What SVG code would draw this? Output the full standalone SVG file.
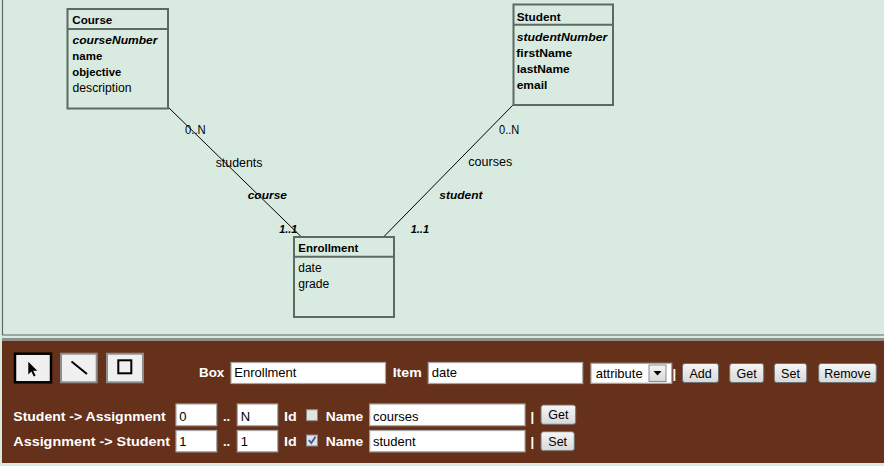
<svg xmlns="http://www.w3.org/2000/svg" width="884" height="466" viewBox="0 0 884 466">
<style>
.box{fill:none;stroke:#5c6a61;stroke-width:2}
.sep{stroke:#5c6a61;stroke-width:2}
.t{font-family:"Liberation Sans",Arial,sans-serif;font-size:12px;fill:#000}
.b{font-family:"Liberation Sans",Arial,sans-serif;font-size:11.5px;font-weight:bold;fill:#000}
.bi{font-family:"Liberation Sans",Arial,sans-serif;font-size:11.5px;font-weight:bold;font-style:italic;fill:#000}
.conn{stroke:#000;stroke-width:1;fill:none}
.lbl{font-family:"Liberation Sans",Arial,sans-serif;font-size:13px;font-weight:bold;fill:#fff}
.in{fill:#fff;stroke:#a6a6a6;stroke-width:1.2}
.it{font-family:"Liberation Sans",Arial,sans-serif;font-size:13px;fill:#000}
.btn{fill:url(#bg);stroke:#707070;stroke-width:1}
.bt{font-family:"Liberation Sans",Arial,sans-serif;font-size:12.5px;fill:#000;text-anchor:middle}
.tool{fill:#f0f0f0;stroke:#8c8c8c;stroke-width:2}
.cb{fill:#e2e2e2;stroke:#8a8a8a;stroke-width:1}
</style>
<defs>
<linearGradient id="bg" x1="0" y1="0" x2="0" y2="1">
<stop offset="0" stop-color="#f6f6f6"/>
<stop offset="1" stop-color="#d8d8d8"/>
</linearGradient>
</defs>
<rect x="0" y="0" width="884" height="466" fill="#d9ebe0"/>
<line x1="2.5" y1="0" x2="2.5" y2="335" stroke="#5c6a61" stroke-width="1.2"/>
<line x1="2" y1="335" x2="884" y2="335" stroke="#5c6a61" stroke-width="1.2"/>

<g id="connectors">
<line class="conn" x1="168" y1="107" x2="301.5" y2="237"/>
<line class="conn" x1="513.5" y1="104.5" x2="383.5" y2="237"/>
<text class="t" x="185" y="134" textLength="20.7" lengthAdjust="spacingAndGlyphs">0..N</text>
<text class="t" x="215.7" y="166.5" textLength="46.7" lengthAdjust="spacingAndGlyphs">students</text>
<text class="bi" x="247.7" y="199" textLength="39.3" lengthAdjust="spacingAndGlyphs">course</text>
<text class="bi" x="279.3" y="232.5" textLength="18" lengthAdjust="spacingAndGlyphs">1..1</text>
<text class="t" x="499" y="133.5" textLength="20.3" lengthAdjust="spacingAndGlyphs">0..N</text>
<text class="t" x="468.3" y="166" textLength="44" lengthAdjust="spacingAndGlyphs">courses</text>
<text class="bi" x="439.3" y="199.3" textLength="43.3" lengthAdjust="spacingAndGlyphs">student</text>
<text class="bi" x="410.7" y="232.7" textLength="18.3" lengthAdjust="spacingAndGlyphs">1..1</text>
</g>

<g id="course">
<rect class="box" x="67.5" y="9" width="100.5" height="99.5"/>
<line class="sep" x1="67.5" y1="29" x2="168" y2="29"/>
<text class="b" x="72.3" y="24.3" textLength="40" lengthAdjust="spacingAndGlyphs">Course</text>
<text class="bi" x="72.5" y="44.3" textLength="85" lengthAdjust="spacingAndGlyphs">courseNumber</text>
<text class="b" x="72.3" y="60.3" textLength="30" lengthAdjust="spacingAndGlyphs">name</text>
<text class="b" x="72.3" y="76.3" textLength="49" lengthAdjust="spacingAndGlyphs">objective</text>
<text class="t" x="72.5" y="92.3" textLength="59" lengthAdjust="spacingAndGlyphs">description</text>
</g>

<g id="student">
<rect class="box" x="513.5" y="4.5" width="99.5" height="100.5"/>
<line class="sep" x1="513.5" y1="24.7" x2="613" y2="24.7"/>
<text class="b" x="516.7" y="20.5" textLength="44" lengthAdjust="spacingAndGlyphs">Student</text>
<text class="bi" x="516.7" y="40.7" textLength="90.6" lengthAdjust="spacingAndGlyphs">studentNumber</text>
<text class="b" x="516.3" y="56.7" textLength="56" lengthAdjust="spacingAndGlyphs">firstName</text>
<text class="b" x="516.7" y="72.7" textLength="53" lengthAdjust="spacingAndGlyphs">lastName</text>
<text class="b" x="516.7" y="88.7" textLength="30.6" lengthAdjust="spacingAndGlyphs">email</text>
</g>

<g id="enrollment">
<rect class="box" x="294" y="237" width="100" height="80"/>
<line class="sep" x1="294" y1="256.7" x2="394" y2="256.7"/>
<text class="b" x="298.3" y="252.3" textLength="60" lengthAdjust="spacingAndGlyphs">Enrollment</text>
<text class="t" x="298.3" y="272.3" textLength="23.3" lengthAdjust="spacingAndGlyphs">date</text>
<text class="t" x="298.3" y="288.3" textLength="31" lengthAdjust="spacingAndGlyphs">grade</text>
</g>

<g id="panel">
<rect x="2" y="338" width="882" height="3" fill="#8e8e8e"/>
<rect x="2" y="341" width="882" height="122" fill="#66311a"/>

<rect x="15" y="353.7" width="36" height="28.6" fill="#f0f0f0" stroke="#000" stroke-width="2.5"/>
<polygon points="28.3,361.7 28.3,374.5 31.3,371.5 33.8,376.5 35.6,375.6 33.2,370.7 37.3,370.7" fill="#000"/>
<rect class="tool" x="61" y="353.7" width="35.7" height="28.6"/>
<line x1="71.5" y1="361.5" x2="87" y2="374" stroke="#000" stroke-width="2"/>
<rect class="tool" x="107" y="353.7" width="36" height="28.6"/>
<rect x="118.3" y="360.3" width="13" height="13" fill="none" stroke="#000" stroke-width="2"/>

<text class="lbl" x="199" y="377.3" textLength="25.3" lengthAdjust="spacingAndGlyphs">Box</text>
<rect class="in" x="231" y="362.5" width="154.5" height="21"/>
<text class="it" x="234.3" y="377.3">Enrollment</text>
<text class="lbl" x="392.7" y="377.3" textLength="29" lengthAdjust="spacingAndGlyphs">Item</text>
<rect class="in" x="428.3" y="362.5" width="154.4" height="21"/>
<text class="it" x="431.7" y="377.3">date</text>

<rect class="in" x="591" y="363.3" width="80.7" height="20"/>
<text class="it" x="595.7" y="377.5">attribute</text>
<rect x="649" y="365" width="17" height="16.5" fill="url(#bg)" stroke="#8a8a8a" stroke-width="1"/>
<polygon points="653.5,371 661.5,371 657.5,375.5" fill="#000"/>
<text class="lbl" x="672.5" y="378" font-weight="normal">|</text>

<rect class="btn" x="682.5" y="363.5" width="36" height="19" rx="2.5"/>
<text class="bt" x="700.5" y="377.5">Add</text>
<rect class="btn" x="729.7" y="363.5" width="34" height="19" rx="2.5"/>
<text class="bt" x="746.7" y="377.5">Get</text>
<rect class="btn" x="774.3" y="363.5" width="32.4" height="19" rx="2.5"/>
<text class="bt" x="790.5" y="377.5">Set</text>
<rect class="btn" x="818.7" y="363.5" width="57.6" height="19" rx="2.5"/>
<text class="bt" x="847.5" y="377.5">Remove</text>

<text class="lbl" x="13.3" y="420.5" textLength="152.4" lengthAdjust="spacingAndGlyphs">Student -&gt; Assignment</text>
<rect class="in" x="176" y="404" width="40.7" height="21.7"/>
<text class="it" x="179.3" y="420.5">0</text>
<text class="lbl" x="223" y="420.5">..</text>
<rect class="in" x="237.3" y="404" width="40.4" height="21.7"/>
<text class="it" x="240.7" y="420.5">N</text>
<text class="lbl" x="284" y="420.5" textLength="12.7" lengthAdjust="spacingAndGlyphs">Id</text>
<rect class="cb" x="306.5" y="409.7" width="11" height="11"/>
<text class="lbl" x="325.7" y="420.5" textLength="37.6" lengthAdjust="spacingAndGlyphs">Name</text>
<rect class="in" x="369.7" y="404" width="155.3" height="21.7"/>
<text class="it" x="373" y="420.5">courses</text>
<text class="lbl" x="530.5" y="420.5" font-weight="normal">|</text>
<rect class="btn" x="541" y="405" width="34.7" height="19.3" rx="2.5"/>
<text class="bt" x="558.3" y="419.3">Get</text>

<text class="lbl" x="13.3" y="445.5" textLength="156.7" lengthAdjust="spacingAndGlyphs">Assignment -&gt; Student</text>
<rect class="in" x="176" y="430.5" width="40.7" height="21.3"/>
<text class="it" x="179.3" y="445.7">1</text>
<text class="lbl" x="223" y="445.5">..</text>
<rect class="in" x="237.3" y="430.5" width="40.4" height="21.3"/>
<text class="it" x="240.7" y="445.7">1</text>
<text class="lbl" x="284" y="445.5" textLength="12.7" lengthAdjust="spacingAndGlyphs">Id</text>
<rect class="cb" x="306.5" y="435" width="11" height="11"/>
<polyline points="308.8,440 311.3,443 315.5,436.8" fill="none" stroke="#3b56a8" stroke-width="1.8"/>
<text class="lbl" x="325.7" y="445.5" textLength="37.6" lengthAdjust="spacingAndGlyphs">Name</text>
<rect class="in" x="369.7" y="430.5" width="155.3" height="21.3"/>
<text class="it" x="373" y="445.7">student</text>
<text class="lbl" x="530.5" y="445.5" font-weight="normal">|</text>
<rect class="btn" x="541" y="431.7" width="33.3" height="19" rx="2.5"/>
<text class="bt" x="557.7" y="445.7">Set</text>
</g>
</svg>
